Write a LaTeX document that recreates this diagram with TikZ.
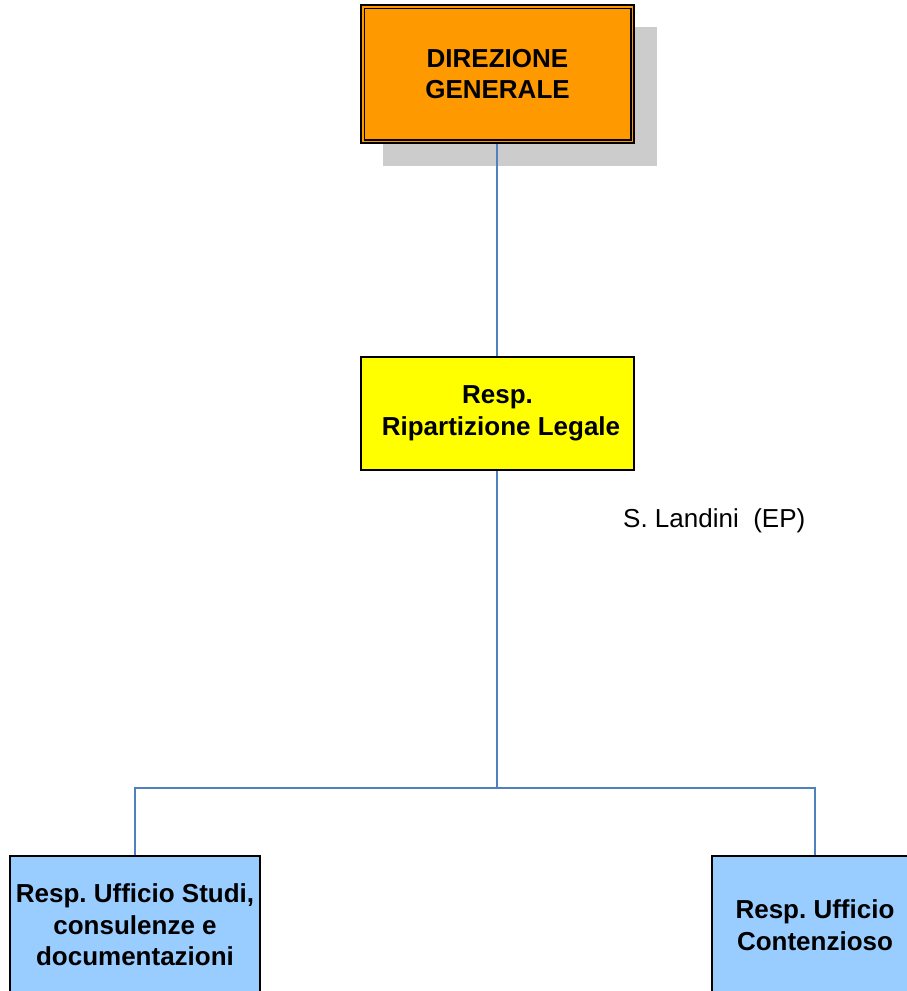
\documentclass[tikz,border=0pt]{standalone}
\usepackage{fontspec}
\setmainfont{Liberation Sans}
\frenchspacing
\definecolor{orangebox}{RGB}{255,153,0}
\definecolor{yellowbox}{RGB}{255,255,0}
\definecolor{bluebox}{RGB}{153,204,255}
\definecolor{shadowgray}{RGB}{204,204,204}
\definecolor{linkblue}{RGB}{79,129,189}
\tikzset{
  boxtext/.style={font=\fontsize{26}{31.5}\selectfont\bfseries, align=center, inner sep=0pt},
  orgbox/.style={boxtext, rectangle, draw=black, line width=1.6pt},
  link/.style={draw=linkblue, line width=1.3pt},
  plainlabel/.style={font=\fontsize{26}{31.5}\selectfont, inner sep=0pt}
}
\begin{document}
\begin{tikzpicture}[x=1pt,y=-1pt]
\clip (0,0) rectangle (907,991);
\useasboundingbox (0,0) rectangle (907,991);
% shadow of top box
\fill[shadowgray] (383,27) rectangle (657,166);
% top box
\node[orgbox, fill=orangebox, minimum width=273pt, minimum height=138pt] (dg) at (497.5,74) {DIREZIONE\\GENERALE};
\draw[black, line width=1.4pt] ([shift={(4pt,4pt)}]dg.south west) rectangle ([shift={(-4pt,-4pt)}]dg.north east);
% middle box
\node[orgbox, fill=yellowbox, minimum width=273pt, minimum height=113pt] (rl) at (497.5,413.5) {Resp.\\\hspace*{7pt}Ripartizione Legale};
% bottom boxes
\node[orgbox, fill=bluebox, minimum width=250pt, minimum height=138pt] (us) at (135,925) {Resp. Ufficio Studi,\\consulenze e\\documentazioni};
\node[orgbox, fill=bluebox, minimum width=206pt, minimum height=138pt] (uc) at (815,925) {Resp. Ufficio\\Contenzioso};
% label
\node[plainlabel, anchor=base west] (sl) at (623,527) {S. Landini\ \ (EP)};
% connectors
\coordinate (j) at (497,788);
\draw[link] (dg.south -| j) -- (rl.north -| j);
\draw[link] (rl.south -| j) -- (j);
\draw[link] (j) -| (us.north);
\draw[link] (j) -| (uc.north);
\end{tikzpicture}
\end{document}
